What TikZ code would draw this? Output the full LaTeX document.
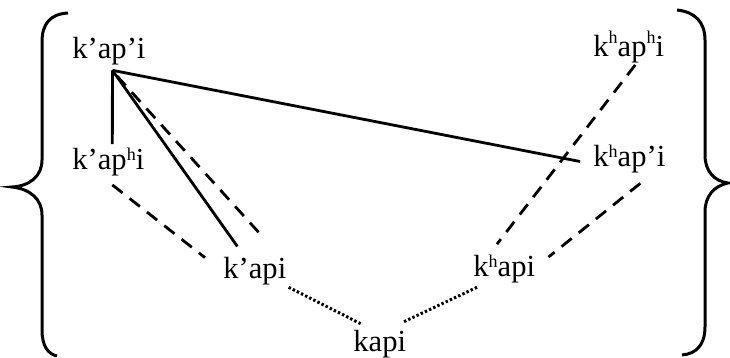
\documentclass[tikz,border=0pt]{standalone}
\usepackage{fontspec}
\setmainfont{Liberation Serif}
\newcommand\hsup{\raisebox{4.5pt}{\fontsize{9}{9}\selectfont h}}
\newcommand\hsupup{\raisebox{6.5pt}{\fontsize{9}{9}\selectfont h}}
\tikzset{
  lbl/.style={anchor=base west, inner sep=0pt, font=\fontsize{15.3}{18}\selectfont},
  solidl/.style={line width=1.4pt},
  dashl/.style={line width=1.4pt, dash pattern=on 6.5pt off 4.5pt},
  dotl/.style={line width=1.5pt, dash pattern=on 1.2pt off 1.1pt},
  bracel/.style={line width=1.5pt}
}
\begin{document}
\begin{tikzpicture}[x=0.5pt,y=-0.5pt]
\useasboundingbox (0,0) rectangle (730,358);
\node[lbl] (n1) at (72,59) {k’ap’i};
\node[lbl] (n2) at (72,170) {k’ap\hsup i};
\node[lbl] (n3) at (223,279) {k’api};
\node[lbl] (n4) at (353,352) {kapi};
\node[lbl] (n5) at (473,277) {k\hsup api};
\node[lbl] (n6) at (593,167) {k\hsup ap’i};
\node[lbl] (n7) at (593,57) {k\hsupup ap\hsupup i};
% solid
\draw[solidl] ([shift={(3.5,4.4)}]n1.south) -- ([shift={(4,-4)}]n2.north);
\draw[solidl] ([shift={(3.5,4.4)}]n1.south) -- ([shift={(-17.5,-11)}]n3.north);
\draw[solidl] ([shift={(3.5,4.4)}]n1.south) -- ([shift={(-13,2)}]n6.west);
% dashed
\draw[dashl] ([shift={(8,10)}]n1.south) -- ([shift={(7.5,-21)}]n3.north);
\draw[dashl] ([shift={(4,8)}]n2.south) -- ([shift={(-18,-14)}]n3.west);
\draw[dashl] ([shift={(6.5,1)}]n7.south) -- ([shift={(24,-11)}]n5.north west);
\draw[dashl] ([shift={(11,9.4)}]n6.south) -- ([shift={(13,2)}]n5.north east);
% dotted
\draw[dotl] ([shift={(2,1.4)}]n3.south east) -- ([shift={(9,-6)}]n4.north west);
\draw[dotl] ([shift={(4,3.4)}]n5.south west) -- ([shift={(-4,-8)}]n4.north east);
% braces
\draw[bracel] (68,13) .. controls (50,14) and (42,24) .. (42,42) -- (42,160)
  .. controls (42,176) and (30,186) .. (12,187)
  .. controls (30,189) and (42,199) .. (42,215) -- (42,330)
  .. controls (42,346) and (48,354) .. (57,356);
\draw[bracel] (677,10) .. controls (695,12) and (705,22) .. (705,40) -- (705,155)
  .. controls (705,171) and (714,181) .. (728,183)
  .. controls (714,186) and (705,196) .. (705,212) -- (705,327)
  .. controls (705,345) and (696,354) .. (682,355);
\end{tikzpicture}
\end{document}
